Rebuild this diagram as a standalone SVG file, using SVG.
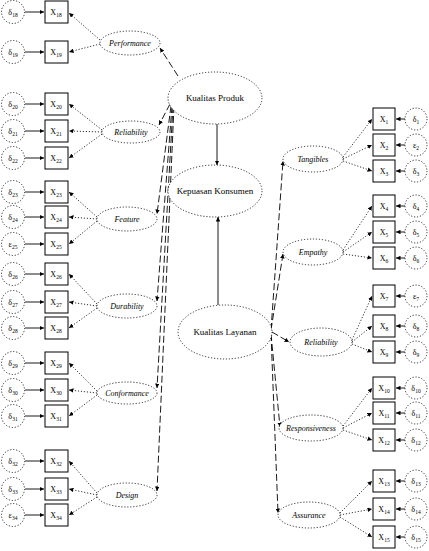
<svg xmlns="http://www.w3.org/2000/svg" width="429" height="551" viewBox="0 0 429 551">
<defs>
<marker id="a" viewBox="0 0 6 6" refX="6" refY="3" markerWidth="4.5" markerHeight="4.5" markerUnits="userSpaceOnUse" orient="auto"><path d="M0,0 L6,3 L0,6 z" fill="#000"/></marker>
<style>
.bx{fill:#fff;stroke:#000;stroke-width:1}
.er{fill:#fff;stroke:#000;stroke-width:0.8;stroke-dasharray:1.2,1.8}
.lv{fill:#fff;stroke:#000;stroke-width:0.8;stroke-dasharray:1.2,1.8}
.t{font-family:"Liberation Serif",serif;font-size:8px;fill:#000;text-anchor:middle}
.ti{font-family:"Liberation Serif",serif;font-size:8px;font-style:italic;fill:#000;text-anchor:middle}
.tm{font-family:"Liberation Serif",serif;font-size:9px;fill:#000;text-anchor:middle}
.s{font-size:5.5px}
.sol{stroke:#000;stroke-width:0.9;fill:none;marker-end:url(#a)}
.dot{stroke:#000;stroke-width:0.8;stroke-dasharray:1.2,1.8;fill:none;marker-end:url(#a)}
.dsh{stroke:#000;stroke-width:0.9;stroke-dasharray:7,3;fill:none;marker-end:url(#a)}
</style>
</defs>
<rect width="429" height="551" fill="#fff"/>
<g id="connectors">
<line class="sol" x1="217" y1="124" x2="217" y2="165"/>
<line class="sol" x1="218" y1="305" x2="218" y2="217"/>
<line class="dsh" x1="178" y1="76" x2="160" y2="48"/>
<line class="dsh" x1="170" y1="104" x2="159" y2="125"/>
<line class="dsh" x1="171" y1="106" x2="157" y2="214"/>
<line class="dsh" x1="172" y1="106" x2="157" y2="301"/>
<line class="dsh" x1="173" y1="106" x2="157" y2="388"/>
<line class="dsh" x1="174" y1="106" x2="157" y2="491"/>
<line class="dsh" x1="271" y1="330" x2="283" y2="161"/>
<line class="dsh" x1="271" y1="330" x2="283" y2="254"/>
<line class="dsh" x1="272" y1="332" x2="289" y2="342"/>
<line class="dsh" x1="271" y1="334" x2="280" y2="427"/>
<line class="dsh" x1="271" y1="334" x2="278" y2="513"/>
<line class="dot" x1="100" y1="40" x2="69" y2="13"/>
<line class="dot" x1="100" y1="44" x2="69" y2="52"/>
<line class="dot" x1="102" y1="130" x2="69" y2="104"/>
<line class="dot" x1="102" y1="132" x2="69" y2="131"/>
<line class="dot" x1="102" y1="134" x2="69" y2="158"/>
<line class="dot" x1="97" y1="217" x2="69" y2="192"/>
<line class="dot" x1="97" y1="219" x2="69" y2="217"/>
<line class="dot" x1="97" y1="221" x2="69" y2="244"/>
<line class="dot" x1="97" y1="304" x2="69" y2="274"/>
<line class="dot" x1="97" y1="306" x2="69" y2="302"/>
<line class="dot" x1="97" y1="308" x2="69" y2="328"/>
<line class="dot" x1="97" y1="391" x2="69" y2="363"/>
<line class="dot" x1="97" y1="393" x2="69" y2="390"/>
<line class="dot" x1="97" y1="395" x2="69" y2="416"/>
<line class="dot" x1="97" y1="493" x2="69" y2="461"/>
<line class="dot" x1="97" y1="495" x2="69" y2="489"/>
<line class="dot" x1="97" y1="497" x2="69" y2="515"/>
<line class="dot" x1="343" y1="157" x2="372" y2="119"/>
<line class="dot" x1="343" y1="159" x2="372" y2="145"/>
<line class="dot" x1="343" y1="161" x2="372" y2="171"/>
<line class="dot" x1="343" y1="250" x2="372" y2="206"/>
<line class="dot" x1="343" y1="252" x2="372" y2="232"/>
<line class="dot" x1="343" y1="254" x2="372" y2="258"/>
<line class="dot" x1="352" y1="340" x2="372" y2="296"/>
<line class="dot" x1="352" y1="342" x2="372" y2="326"/>
<line class="dot" x1="352" y1="344" x2="372" y2="352"/>
<line class="dot" x1="343" y1="426" x2="372" y2="388"/>
<line class="dot" x1="343" y1="428" x2="372" y2="413"/>
<line class="dot" x1="343" y1="430" x2="372" y2="440"/>
<line class="dot" x1="340" y1="513" x2="372" y2="481"/>
<line class="dot" x1="340" y1="515" x2="372" y2="509"/>
<line class="dot" x1="340" y1="517" x2="372" y2="537"/>
<line class="sol" x1="25" y1="12" x2="44" y2="12"/>
<line class="sol" x1="25" y1="52" x2="44" y2="52"/>
<line class="sol" x1="25" y1="104" x2="44" y2="104"/>
<line class="sol" x1="25" y1="131" x2="44" y2="131"/>
<line class="sol" x1="25" y1="158" x2="44" y2="158"/>
<line class="sol" x1="25" y1="192" x2="44" y2="192"/>
<line class="sol" x1="25" y1="217" x2="44" y2="217"/>
<line class="sol" x1="25" y1="244" x2="44" y2="244"/>
<line class="sol" x1="25" y1="274" x2="44" y2="274"/>
<line class="sol" x1="25" y1="302" x2="44" y2="302"/>
<line class="sol" x1="25" y1="328" x2="44" y2="328"/>
<line class="sol" x1="25" y1="363" x2="44" y2="363"/>
<line class="sol" x1="25" y1="390" x2="44" y2="390"/>
<line class="sol" x1="25" y1="416" x2="44" y2="416"/>
<line class="sol" x1="25" y1="461" x2="44" y2="461"/>
<line class="sol" x1="25" y1="489" x2="44" y2="489"/>
<line class="sol" x1="25" y1="515" x2="44" y2="515"/>
<line class="sol" x1="405" y1="119" x2="396" y2="119"/>
<line class="sol" x1="405" y1="145" x2="396" y2="145"/>
<line class="sol" x1="405" y1="171" x2="396" y2="171"/>
<line class="sol" x1="405" y1="206" x2="396" y2="206"/>
<line class="sol" x1="405" y1="232" x2="396" y2="232"/>
<line class="sol" x1="405" y1="258" x2="396" y2="258"/>
<line class="sol" x1="405" y1="296" x2="396" y2="296"/>
<line class="sol" x1="405" y1="326" x2="396" y2="326"/>
<line class="sol" x1="405" y1="352" x2="396" y2="352"/>
<line class="sol" x1="405" y1="388" x2="396" y2="388"/>
<line class="sol" x1="405" y1="413" x2="396" y2="413"/>
<line class="sol" x1="405" y1="440" x2="396" y2="440"/>
<line class="sol" x1="405" y1="481" x2="396" y2="481"/>
<line class="sol" x1="405" y1="509" x2="396" y2="509"/>
<line class="sol" x1="405" y1="537" x2="396" y2="537"/>
</g>
<g id="kualitas-produk"><ellipse class="lv" cx="215" cy="98" rx="47" ry="26"/><text class="tm" x="215" y="101">Kualitas Produk</text></g>
<g id="kepuasan-konsumen"><ellipse class="lv" cx="215" cy="191" rx="47" ry="26"/><text class="tm" x="215" y="194">Kepuasan Konsumen</text></g>
<g id="kualitas-layanan"><ellipse class="lv" cx="225" cy="332" rx="47" ry="27"/><text class="tm" x="225" y="335">Kualitas Layanan</text></g>
<g id="performance"><ellipse class="lv" cx="130" cy="43" rx="30" ry="12"/><text class="ti" x="130" y="46">Performance</text></g>
<g id="reliability-l"><ellipse class="lv" cx="131" cy="132" rx="29" ry="11"/><text class="ti" x="131" y="135">Reliability</text></g>
<g id="feature"><ellipse class="lv" cx="127" cy="219" rx="30" ry="12"/><text class="ti" x="127" y="222">Feature</text></g>
<g id="durability"><ellipse class="lv" cx="127" cy="306" rx="30" ry="12"/><text class="ti" x="127" y="309">Durability</text></g>
<g id="conformance"><ellipse class="lv" cx="127" cy="393" rx="30" ry="11"/><text class="ti" x="127" y="396">Conformance</text></g>
<g id="design"><ellipse class="lv" cx="127" cy="495" rx="30" ry="12"/><text class="ti" x="127" y="498">Design</text></g>
<g id="tangibles"><ellipse class="lv" cx="313" cy="159" rx="30" ry="13"/><text class="ti" x="313" y="162">Tangibles</text></g>
<g id="empathy"><ellipse class="lv" cx="313" cy="252" rx="30" ry="13"/><text class="ti" x="313" y="255">Empathy</text></g>
<g id="reliability-r"><ellipse class="lv" cx="321" cy="342" rx="31" ry="14"/><text class="ti" x="321" y="345">Reliability</text></g>
<g id="responsiveness"><ellipse class="lv" cx="311" cy="428" rx="32" ry="13"/><text class="ti" x="311" y="431">Responsiveness</text></g>
<g id="assurance"><ellipse class="lv" cx="309" cy="515" rx="31" ry="13"/><text class="ti" x="309" y="518">Assurance</text></g>
<g id="left-indicators">
<g id="x18"><rect class="bx" x="45" y="1" width="23" height="22"/><text class="t" x="56" y="15">X<tspan class="s" dy="2">18</tspan></text></g>
<g id="x19"><rect class="bx" x="45" y="41" width="23" height="22"/><text class="t" x="56" y="55">X<tspan class="s" dy="2">19</tspan></text></g>
<g id="x20"><rect class="bx" x="45" y="93" width="23" height="22"/><text class="t" x="56" y="107">X<tspan class="s" dy="2">20</tspan></text></g>
<g id="x21"><rect class="bx" x="45" y="120" width="23" height="22"/><text class="t" x="56" y="134">X<tspan class="s" dy="2">21</tspan></text></g>
<g id="x22"><rect class="bx" x="45" y="147" width="23" height="22"/><text class="t" x="56" y="161">X<tspan class="s" dy="2">22</tspan></text></g>
<g id="x23"><rect class="bx" x="45" y="181" width="23" height="22"/><text class="t" x="56" y="195">X<tspan class="s" dy="2">23</tspan></text></g>
<g id="x24"><rect class="bx" x="45" y="206" width="23" height="22"/><text class="t" x="56" y="220">X<tspan class="s" dy="2">24</tspan></text></g>
<g id="x25"><rect class="bx" x="45" y="233" width="23" height="22"/><text class="t" x="56" y="247">X<tspan class="s" dy="2">25</tspan></text></g>
<g id="x26"><rect class="bx" x="45" y="263" width="23" height="22"/><text class="t" x="56" y="277">X<tspan class="s" dy="2">26</tspan></text></g>
<g id="x27"><rect class="bx" x="45" y="291" width="23" height="22"/><text class="t" x="56" y="305">X<tspan class="s" dy="2">27</tspan></text></g>
<g id="x28"><rect class="bx" x="45" y="317" width="23" height="22"/><text class="t" x="56" y="331">X<tspan class="s" dy="2">28</tspan></text></g>
<g id="x29"><rect class="bx" x="45" y="352" width="23" height="22"/><text class="t" x="56" y="366">X<tspan class="s" dy="2">29</tspan></text></g>
<g id="x30"><rect class="bx" x="45" y="379" width="23" height="22"/><text class="t" x="56" y="393">X<tspan class="s" dy="2">30</tspan></text></g>
<g id="x31"><rect class="bx" x="45" y="405" width="23" height="22"/><text class="t" x="56" y="419">X<tspan class="s" dy="2">31</tspan></text></g>
<g id="x32"><rect class="bx" x="45" y="450" width="23" height="22"/><text class="t" x="56" y="464">X<tspan class="s" dy="2">32</tspan></text></g>
<g id="x33"><rect class="bx" x="45" y="478" width="23" height="22"/><text class="t" x="56" y="492">X<tspan class="s" dy="2">33</tspan></text></g>
<g id="x34"><rect class="bx" x="45" y="504" width="23" height="22"/><text class="t" x="56" y="518">X<tspan class="s" dy="2">34</tspan></text></g>
</g>
<g id="left-errors">
<g id="d18"><circle class="er" cx="13" cy="12" r="11.5"/><text class="t" x="13" y="15">δ<tspan class="s" dy="2">18</tspan></text></g>
<g id="d19"><circle class="er" cx="13" cy="52" r="11.5"/><text class="t" x="13" y="55">δ<tspan class="s" dy="2">19</tspan></text></g>
<g id="d20"><circle class="er" cx="13" cy="104" r="11.5"/><text class="t" x="13" y="107">δ<tspan class="s" dy="2">20</tspan></text></g>
<g id="d21"><circle class="er" cx="13" cy="131" r="11.5"/><text class="t" x="13" y="134">δ<tspan class="s" dy="2">21</tspan></text></g>
<g id="d22"><circle class="er" cx="13" cy="158" r="11.5"/><text class="t" x="13" y="161">δ<tspan class="s" dy="2">22</tspan></text></g>
<g id="d23"><circle class="er" cx="13" cy="192" r="11.5"/><text class="t" x="13" y="195">δ<tspan class="s" dy="2">23</tspan></text></g>
<g id="d24"><circle class="er" cx="13" cy="217" r="11.5"/><text class="t" x="13" y="220">δ<tspan class="s" dy="2">24</tspan></text></g>
<g id="e25"><circle class="er" cx="13" cy="244" r="11.5"/><text class="t" x="13" y="247">ε<tspan class="s" dy="2">25</tspan></text></g>
<g id="d26"><circle class="er" cx="13" cy="274" r="11.5"/><text class="t" x="13" y="277">δ<tspan class="s" dy="2">26</tspan></text></g>
<g id="d27"><circle class="er" cx="13" cy="302" r="11.5"/><text class="t" x="13" y="305">δ<tspan class="s" dy="2">27</tspan></text></g>
<g id="d28"><circle class="er" cx="13" cy="328" r="11.5"/><text class="t" x="13" y="331">δ<tspan class="s" dy="2">28</tspan></text></g>
<g id="d29"><circle class="er" cx="13" cy="363" r="11.5"/><text class="t" x="13" y="366">δ<tspan class="s" dy="2">29</tspan></text></g>
<g id="d30"><circle class="er" cx="13" cy="390" r="11.5"/><text class="t" x="13" y="393">δ<tspan class="s" dy="2">30</tspan></text></g>
<g id="d31"><circle class="er" cx="13" cy="416" r="11.5"/><text class="t" x="13" y="419">δ<tspan class="s" dy="2">31</tspan></text></g>
<g id="d32"><circle class="er" cx="13" cy="461" r="11.5"/><text class="t" x="13" y="464">δ<tspan class="s" dy="2">32</tspan></text></g>
<g id="d33"><circle class="er" cx="13" cy="489" r="11.5"/><text class="t" x="13" y="492">δ<tspan class="s" dy="2">33</tspan></text></g>
<g id="e34"><circle class="er" cx="13" cy="515" r="11.5"/><text class="t" x="13" y="518">ε<tspan class="s" dy="2">34</tspan></text></g>
</g>
<g id="right-indicators">
<g id="x1"><rect class="bx" x="373" y="108" width="22" height="22"/><text class="t" x="384" y="122">X<tspan class="s" dy="2">1</tspan></text></g>
<g id="x2"><rect class="bx" x="373" y="134" width="22" height="22"/><text class="t" x="384" y="148">X<tspan class="s" dy="2">2</tspan></text></g>
<g id="x3"><rect class="bx" x="373" y="160" width="22" height="22"/><text class="t" x="384" y="174">X<tspan class="s" dy="2">3</tspan></text></g>
<g id="x4"><rect class="bx" x="373" y="195" width="22" height="22"/><text class="t" x="384" y="209">X<tspan class="s" dy="2">4</tspan></text></g>
<g id="x5"><rect class="bx" x="373" y="221" width="22" height="22"/><text class="t" x="384" y="235">X<tspan class="s" dy="2">5</tspan></text></g>
<g id="x6"><rect class="bx" x="373" y="247" width="22" height="22"/><text class="t" x="384" y="261">X<tspan class="s" dy="2">6</tspan></text></g>
<g id="x7"><rect class="bx" x="373" y="285" width="22" height="22"/><text class="t" x="384" y="299">X<tspan class="s" dy="2">7</tspan></text></g>
<g id="x8"><rect class="bx" x="373" y="315" width="22" height="22"/><text class="t" x="384" y="329">X<tspan class="s" dy="2">8</tspan></text></g>
<g id="x9"><rect class="bx" x="373" y="341" width="22" height="22"/><text class="t" x="384" y="355">X<tspan class="s" dy="2">9</tspan></text></g>
<g id="x10"><rect class="bx" x="373" y="377" width="22" height="22"/><text class="t" x="384" y="391">X<tspan class="s" dy="2">10</tspan></text></g>
<g id="x11"><rect class="bx" x="373" y="402" width="22" height="22"/><text class="t" x="384" y="416">X<tspan class="s" dy="2">11</tspan></text></g>
<g id="x12"><rect class="bx" x="373" y="429" width="22" height="22"/><text class="t" x="384" y="443">X<tspan class="s" dy="2">12</tspan></text></g>
<g id="x13"><rect class="bx" x="373" y="470" width="22" height="22"/><text class="t" x="384" y="484">X<tspan class="s" dy="2">13</tspan></text></g>
<g id="x14"><rect class="bx" x="373" y="498" width="22" height="22"/><text class="t" x="384" y="512">X<tspan class="s" dy="2">14</tspan></text></g>
<g id="x15"><rect class="bx" x="373" y="526" width="22" height="22"/><text class="t" x="384" y="540">X<tspan class="s" dy="2">15</tspan></text></g>
</g>
<g id="right-errors">
<g id="d1"><circle class="er" cx="416" cy="119" r="11"/><text class="t" x="416" y="122">δ<tspan class="s" dy="2">1</tspan></text></g>
<g id="e2"><circle class="er" cx="416" cy="145" r="11"/><text class="t" x="416" y="148">ε<tspan class="s" dy="2">2</tspan></text></g>
<g id="d3"><circle class="er" cx="416" cy="171" r="11"/><text class="t" x="416" y="174">δ<tspan class="s" dy="2">3</tspan></text></g>
<g id="d4"><circle class="er" cx="416" cy="206" r="11"/><text class="t" x="416" y="209">δ<tspan class="s" dy="2">4</tspan></text></g>
<g id="d5"><circle class="er" cx="416" cy="232" r="11"/><text class="t" x="416" y="235">δ<tspan class="s" dy="2">5</tspan></text></g>
<g id="d6"><circle class="er" cx="416" cy="258" r="11"/><text class="t" x="416" y="261">δ<tspan class="s" dy="2">6</tspan></text></g>
<g id="e7"><circle class="er" cx="416" cy="296" r="11"/><text class="t" x="416" y="299">ε<tspan class="s" dy="2">7</tspan></text></g>
<g id="d8"><circle class="er" cx="416" cy="326" r="11"/><text class="t" x="416" y="329">δ<tspan class="s" dy="2">8</tspan></text></g>
<g id="d9"><circle class="er" cx="416" cy="352" r="11"/><text class="t" x="416" y="355">δ<tspan class="s" dy="2">9</tspan></text></g>
<g id="d10"><circle class="er" cx="416" cy="388" r="11"/><text class="t" x="416" y="391">δ<tspan class="s" dy="2">10</tspan></text></g>
<g id="d11"><circle class="er" cx="416" cy="413" r="11"/><text class="t" x="416" y="416">δ<tspan class="s" dy="2">11</tspan></text></g>
<g id="d12"><circle class="er" cx="416" cy="440" r="11"/><text class="t" x="416" y="443">δ<tspan class="s" dy="2">12</tspan></text></g>
<g id="d13"><circle class="er" cx="416" cy="481" r="11"/><text class="t" x="416" y="484">δ<tspan class="s" dy="2">13</tspan></text></g>
<g id="d14"><circle class="er" cx="416" cy="509" r="11"/><text class="t" x="416" y="512">δ<tspan class="s" dy="2">14</tspan></text></g>
<g id="d15"><circle class="er" cx="416" cy="537" r="11"/><text class="t" x="416" y="540">δ<tspan class="s" dy="2">15</tspan></text></g>
</g>
</svg>
